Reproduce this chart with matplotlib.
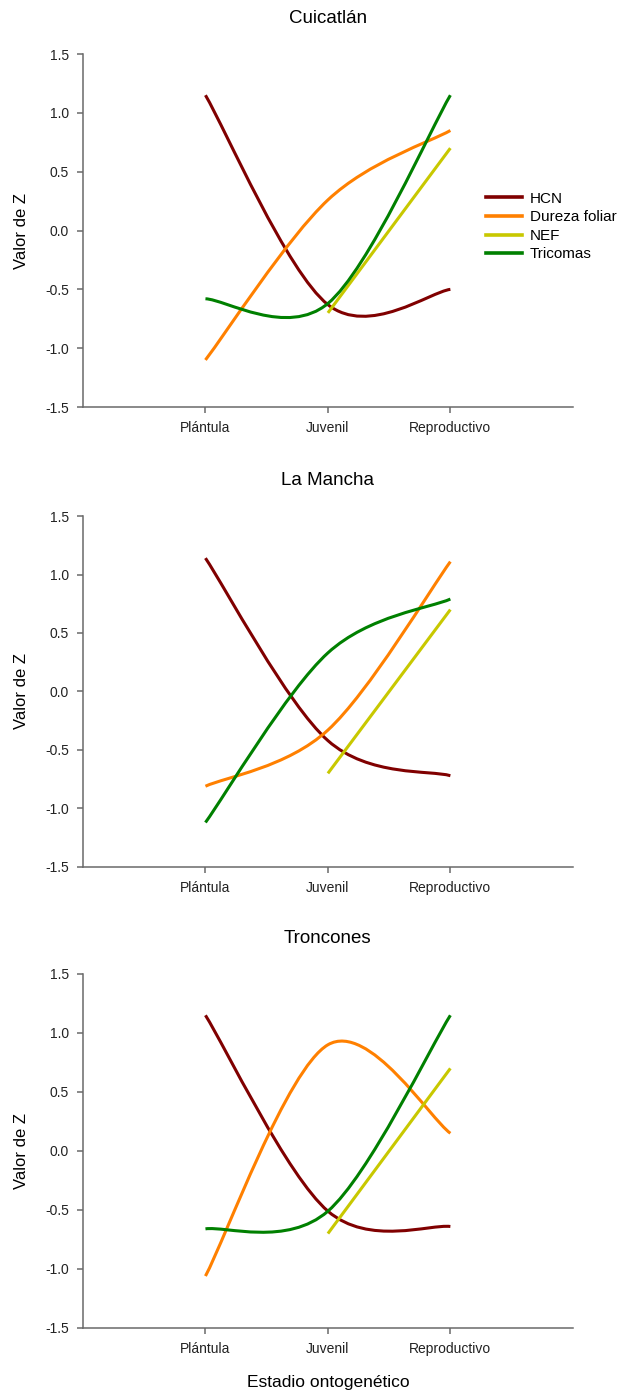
import matplotlib.pyplot as plt
from matplotlib.path import Path
from matplotlib.patches import PathPatch
from matplotlib.lines import Line2D

plt.rcParams['font.family'] = ['Liberation Sans', 'DejaVu Sans']
plt.rcParams['axes.unicode_minus'] = False

stages = ['Plántula', 'Juvenil', 'Reproductivo']
series = ['HCN', 'Dureza foliar', 'NEF', 'Tricomas']
colors = ['#800000', '#FF8000', '#C8C800', '#008000']
sites = ['Cuicatlán', 'La Mancha', 'Troncones']

# Z values per site (Plántula, Juvenil, Reproductivo); NEF has no Plántula value
hcn = [[1.15, -0.63, -0.50], [1.14, -0.42, -0.72], [1.15, -0.51, -0.64]]
dureza = [[-1.10, 0.26, 0.85], [-0.81, -0.33, 1.11], [-1.06, 0.90, 0.15]]
nef = [[-0.70, 0.70], [-0.70, 0.70], [-0.70, 0.70]]
tricomas = [[-0.58, -0.62, 1.15], [-1.12, 0.33, 0.79], [-0.66, -0.51, 1.15]]


def smooth_path(xs, ys):
    # smoothed line like a spreadsheet chart: cubic bezier through each point
    pts = list(zip(xs, ys))
    verts = [pts[0]]
    codes = [Path.MOVETO]
    n = len(pts)
    for i in range(n - 1):
        p0 = pts[i - 1] if i > 0 else pts[i]
        p1 = pts[i]
        p2 = pts[i + 1]
        p3 = pts[i + 2] if i + 2 < n else pts[i + 1]
        c1 = (p1[0] + (p2[0] - p0[0]) / 6, p1[1] + (p2[1] - p0[1]) / 6)
        c2 = (p2[0] - (p3[0] - p1[0]) / 6, p2[1] - (p3[1] - p1[1]) / 6)
        verts += [c1, c2, p2]
        codes += [Path.CURVE4] * 3
    return Path(verts, codes)


fig = plt.figure(figsize=(6.24, 13.92), dpi=100)
positions = [(0.133, 0.7076, 0.785, 0.2536),
             (0.133, 0.3772, 0.785, 0.2521),
             (0.133, 0.0460, 0.785, 0.2543)]

for k, site in enumerate(sites):
    ax = fig.add_axes(positions[k])
    data = [hcn[k], dureza[k], nef[k], tricomas[k]]
    for name, vals, c in zip(series, data, colors):
        xs = list(range(1, 4))[3 - len(vals):]
        ax.add_patch(PathPatch(smooth_path(xs, vals), fill=False,
                               edgecolor=c, lw=2.2, capstyle='butt'))

    ax.set_xlim(0, 4)
    ax.set_ylim(-1.5, 1.5)
    ax.set_xticks([1, 2, 3])
    ax.set_xticklabels(stages)
    ax.set_yticks([-1.5, -1.0, -0.5, 0.0, 0.5, 1.0, 1.5])
    ax.set_yticklabels(['%.1f' % v for v in ax.get_yticks()])
    for s in ['top', 'right']:
        ax.spines[s].set_visible(False)
    for s in ['left', 'bottom']:
        ax.spines[s].set_color('#6a6a6a')
        ax.spines[s].set_linewidth(1.1)
    ax.tick_params(axis='both', labelsize=10, length=4, width=1.1,
                   color='#6a6a6a', labelcolor='#222222', pad=6)
    ax.set_title(site, fontsize=13.5, pad=22)
    ax.set_ylabel('Valor de Z', fontsize=12, labelpad=12)

    if k == 0:
        handles = [Line2D([], [], color=c, lw=2.6) for c in colors]
        ax.legend(handles, series, loc='upper left', bbox_to_anchor=(0.822, 0.61),
                  frameon=False, fontsize=11, handlelength=2.4,
                  handletextpad=0.5, labelspacing=0.3, borderaxespad=0,
                  borderpad=0)
    if k == 2:
        ax.set_xlabel('Estadio ontogenético', fontsize=12.5, labelpad=14)

fig.savefig('out.png', dpi=100)
